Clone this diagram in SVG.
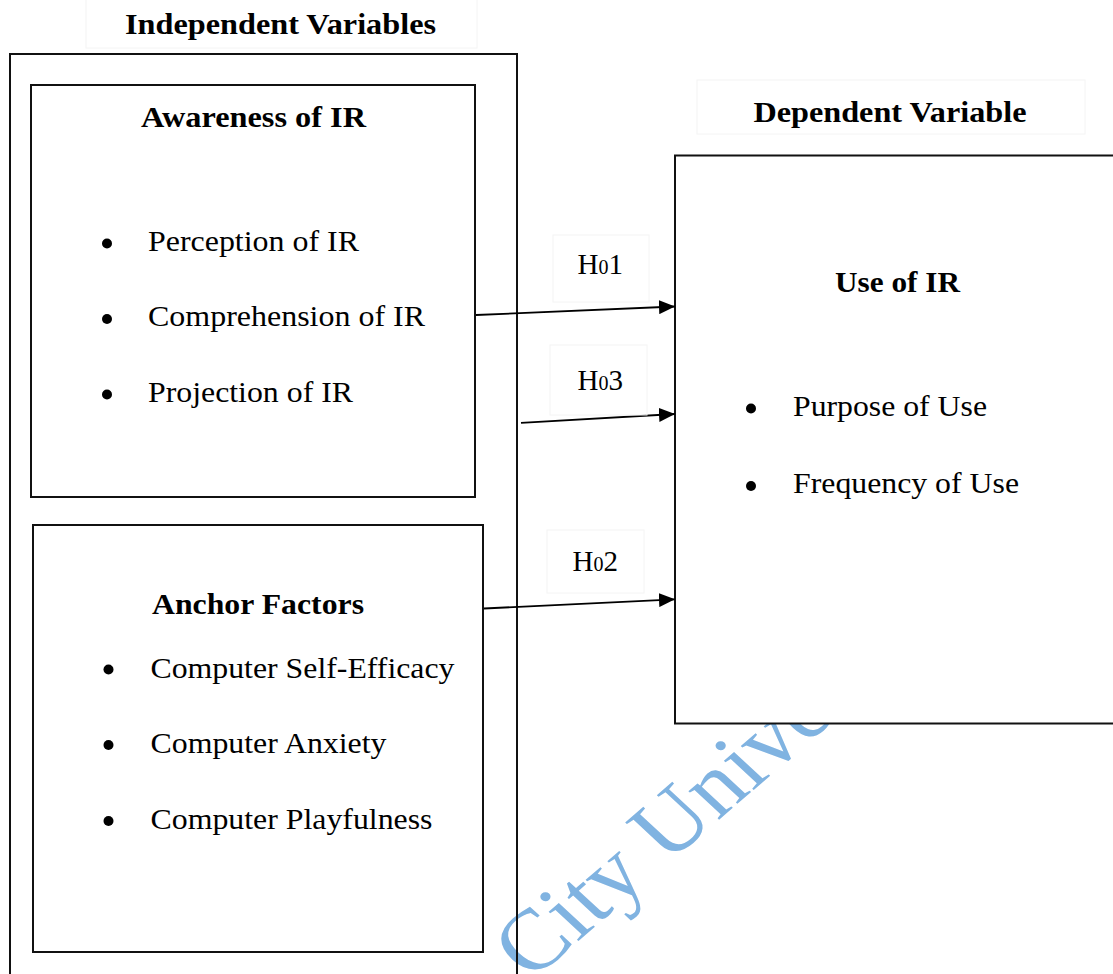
<svg xmlns="http://www.w3.org/2000/svg" width="1113" height="974" viewBox="0 0 1113 974">
<style>
.t{font-family:"Liberation Serif","Times New Roman",serif;font-size:29px;fill:#000}
.b{font-weight:bold}
.box{fill:none;stroke:#111;stroke-width:2}
.faint{fill:none;stroke:#f4f4f4;stroke-width:1}
.bul{fill:#000}
.wm{font-family:"Liberation Serif","Times New Roman",serif;font-size:86px;fill:#80b3e1}
.conn{stroke:#000;stroke-width:1.8;fill:none}
</style>
<defs>
<marker id="arr" viewBox="0 0 16 14" refX="16" refY="7" markerWidth="16" markerHeight="14" markerUnits="userSpaceOnUse" orient="auto">
<path d="M0,0 L16,7 L0,14 Z" fill="#000"/>
</marker>
</defs>
<rect width="1113" height="974" fill="#fff"/>
<text class="wm" transform="scale(1.12,1) translate(474,982) rotate(-44)">City Unive</text>
<g id="title-independent">
<rect class="faint" x="86" y="-5" width="391" height="53"/>
<text class="t b" x="125" y="34" textLength="311" lengthAdjust="spacingAndGlyphs">Independent Variables</text>
</g>
<g id="independent-variables">
<rect class="box" x="10" y="54" width="507" height="930"/>
</g>
<g id="awareness">
<rect class="box" x="31" y="85" width="444" height="412"/>
<text class="t b" x="141" y="127" textLength="225" lengthAdjust="spacingAndGlyphs">Awareness of IR</text>
<ellipse class="bul" cx="107" cy="243.5" rx="5" ry="5"/>
<text class="t" x="148" y="250.5" textLength="211" lengthAdjust="spacingAndGlyphs">Perception of IR</text>
<ellipse class="bul" cx="107" cy="319" rx="5" ry="5"/>
<text class="t" x="148" y="326" textLength="277" lengthAdjust="spacingAndGlyphs">Comprehension of IR</text>
<ellipse class="bul" cx="107" cy="394.5" rx="5" ry="5"/>
<text class="t" x="148" y="401.5" textLength="205" lengthAdjust="spacingAndGlyphs">Projection of IR</text>
</g>
<g id="anchor">
<rect class="box" x="33" y="525" width="450" height="427"/>
<text class="t b" x="152" y="614" textLength="212" lengthAdjust="spacingAndGlyphs">Anchor Factors</text>
<ellipse class="bul" cx="108.5" cy="669.5" rx="5" ry="5"/>
<text class="t" x="150.5" y="677.5" textLength="304" lengthAdjust="spacingAndGlyphs">Computer Self-Efficacy</text>
<ellipse class="bul" cx="108.5" cy="745" rx="5" ry="5"/>
<text class="t" x="150.5" y="753" textLength="236" lengthAdjust="spacingAndGlyphs">Computer Anxiety</text>
<ellipse class="bul" cx="108.5" cy="821" rx="5" ry="5"/>
<text class="t" x="150.5" y="829" textLength="282" lengthAdjust="spacingAndGlyphs">Computer Playfulness</text>
</g>
<g id="title-dependent">
<rect class="faint" x="697" y="80" width="388" height="54"/>
<text class="t b" x="753.5" y="121.5" textLength="273" lengthAdjust="spacingAndGlyphs">Dependent Variable</text>
</g>
<g id="use-of-ir">
<rect class="box" x="675" y="155.5" width="460" height="568" style="fill:#fff"/>
<text class="t b" x="835" y="292" textLength="125" lengthAdjust="spacingAndGlyphs">Use of IR</text>
<ellipse class="bul" cx="751" cy="408.5" rx="5" ry="5"/>
<text class="t" x="793" y="416" textLength="194" lengthAdjust="spacingAndGlyphs">Purpose of Use</text>
<ellipse class="bul" cx="751" cy="486" rx="5" ry="5"/>
<text class="t" x="793" y="492.5" textLength="226" lengthAdjust="spacingAndGlyphs">Frequency of Use</text>
</g>
<g id="connectors">
<line class="conn" x1="476" y1="315" x2="675" y2="306.5" marker-end="url(#arr)"/>
<line class="conn" x1="521" y1="422.8" x2="675" y2="414" marker-end="url(#arr)"/>
<line class="conn" x1="484" y1="608.5" x2="675" y2="599.3" marker-end="url(#arr)"/>
<g id="label-h01">
<rect class="faint" x="553" y="235" width="96" height="67"/>
<text class="t" x="577.5" y="273.5">H<tspan font-size="20">0</tspan>1</text>
</g>
<g id="label-h03">
<rect class="faint" x="550" y="345" width="97" height="70"/>
<text class="t" x="577.5" y="389.5">H<tspan font-size="20">0</tspan>3</text>
</g>
<g id="label-h02">
<rect class="faint" x="547" y="530" width="97" height="63"/>
<text class="t" x="572.5" y="571">H<tspan font-size="20">0</tspan>2</text>
</g>
</g>
</svg>
